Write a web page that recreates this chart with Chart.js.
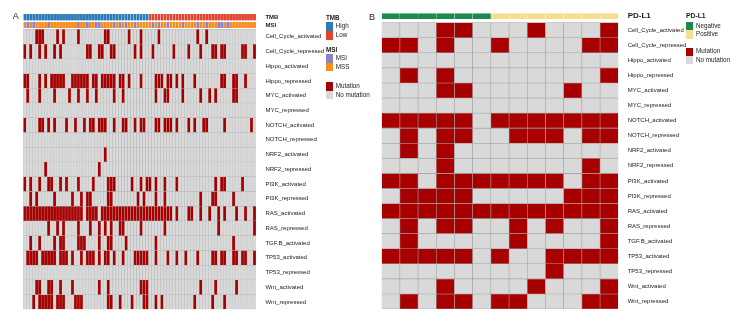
<!DOCTYPE html>
<html><head><meta charset="utf-8">
<script src="https://cdn.jsdelivr.net/npm/chart.js@4.4.1/dist/chart.umd.min.js"></script>
<style>
html,body{margin:0;padding:0;background:#fff;}
body{width:739px;height:320px;position:relative;overflow:hidden;font-family:"Liberation Sans",Arial,sans-serif;color:#1a1a1a;}
canvas{position:absolute;top:0;}
.t{position:absolute;white-space:nowrap;line-height:1;}
.sw{position:absolute;}
</style></head><body>
<canvas id="cA" width="370" height="320" style="left:0px"></canvas>
<canvas id="cB" width="369" height="320" style="left:370px"></canvas>
<script>
// ---------------- DATA ----------------
const pathways = ["Cell_Cycle_activated","Cell_Cycle_repressed","Hippo_activated","Hippo_repressed","MYC_activated","MYC_repressed","NOTCH_activated","NOTCH_repressed","NRF2_activated","NRF2_repressed","PI3K_activated","PI3K_repressed","RAS_activated","RAS_repressed","TGF.B_activated","TP53_activated","TP53_repressed","Wnt_activated","Wnt_repressed"];

// Panel A: 78 samples, first 42 TMB-High, rest TMB-Low
const nSamplesA = 78;
const tmbHighCountA = 42;
const msiSamplesA = [1,3,8,18,21,24,25,30,32,34,37,43,45,48,53,58,61,65,66,68];
// mutated sample indices per pathway (panel A)
const mutatedA = [
  [4,5,6,11,13,18,27,28,35,39,45,58,61],
  [0,2,5,7,10,12,21,22,25,26,29,30,37,39,43,50,55,59,63,64,66,67,73,74,77],
  [],
  [0,1,5,7,9,10,11,12,13,16,17,18,19,20,21,23,24,26,27,28,29,30,32,33,35,39,44,45,46,48,49,51,53,57,66,67,70,71,74],
  [1,5,10,15,18,21,24,30,33,44,47,48,53,59,62,64,70,71],
  [],
  [0,5,6,8,10,14,17,20,22,23,25,26,27,30,33,34,37,39,40,44,45,47,48,49,51,55,57,60,61,67,76],
  [],
  [27],
  [7,25],
  [0,2,5,8,9,12,14,18,23,28,29,30,36,39,41,42,44,47,51,64,66,67,73],
  [2,4,10,16,19,21,22,28,29,38,40,44,47,59,63,64,70],
  [0,1,2,3,4,5,6,7,8,9,10,11,12,13,14,15,16,17,18,19,21,22,23,24,26,27,28,29,30,31,32,33,34,35,36,37,38,39,40,41,42,43,44,45,46,47,48,49,51,55,56,59,62,65,67,71,74,77],
  [8,11,13,18,22,25,27,29,32,33,39,47,65,77],
  [2,5,10,12,13,18,19,20,25,28,29,34,44,70],
  [1,2,3,4,6,7,8,9,10,12,13,14,16,19,21,22,23,25,27,28,30,33,37,38,39,40,41,44,48,51,54,58,63,64,66,67,70,71,73,74,77],
  [],
  [4,5,8,9,12,16,25,28,39,40,41,59,64,71],
  [3,5,6,7,8,9,11,12,13,17,18,19,28,29,32,36,40,41,44,46,57,63,67]
];

// Panel B: 13 samples
const pdl1B = ["Negative","Negative","Negative","Negative","Negative","Negative","Positive","Positive","Positive","Positive","Positive","Positive","Positive"];
const mutB = [
  [0,0,0,1,1,0,0,0,1,0,0,0,1],
  [1,1,0,1,0,0,1,0,0,0,0,1,1],
  [0,0,0,0,0,0,0,0,0,0,0,0,0],
  [0,1,0,1,0,0,0,0,0,0,0,0,1],
  [0,0,0,1,1,0,0,0,0,0,1,0,0],
  [0,0,0,0,0,0,0,0,0,0,0,0,0],
  [1,1,1,1,1,0,1,1,1,1,1,1,1],
  [0,1,0,1,1,0,0,1,1,1,0,1,1],
  [0,1,0,1,0,0,0,0,0,0,0,0,0],
  [0,0,0,1,0,0,0,0,0,0,0,1,0],
  [1,1,0,1,1,1,1,1,1,1,0,1,1],
  [0,1,1,1,1,0,0,0,0,0,1,1,1],
  [1,1,1,1,1,1,1,1,1,1,1,1,1],
  [0,1,0,1,1,0,0,1,0,1,0,0,1],
  [0,1,0,0,0,0,0,1,0,0,0,0,1],
  [1,1,1,1,1,0,1,0,0,1,1,1,1],
  [0,0,0,0,0,0,0,0,0,1,0,0,0],
  [0,0,0,1,0,0,0,0,1,0,0,0,1],
  [0,1,0,1,1,0,1,1,0,0,0,1,1]
];

// ---------------- STYLE ----------------
const FAMILY = '"Liberation Sans", Arial, sans-serif';
const COL = {
  mut:'#A80000', nomut:'#D9D9D9',
  High:'#2B7BBA', Low:'#E2452F',
  MSI:'#8C84C4', MSS:'#F68D1F',
  Negative:'#1A8A4E', Positive:'#F8DD8F'
};

function heatChart(canvas, o) {
  const cats = Array.from({length:o.nCols}, (_, j) => 'S' + (j + 1));
  const common = {barPercentage:1, categoryPercentage:1, grouped:false, borderSkipped:false};
  const datasets = [];
  o.annots.forEach(a => datasets.push(Object.assign({
    data: cats.map(() => [a.y0, a.y1]), backgroundColor: a.colors,
    borderColor: 'rgba(255,255,255,0.55)', borderWidth: 0.4
  }, common)));
  o.matrix.forEach((r, i) => datasets.push(Object.assign({
    data: cats.map(() => [i, i + 1]), backgroundColor: r.map(v => v ? COL.mut : COL.nomut),
    borderColor: o.border, borderWidth: o.borderW
  }, common)));
  const tickVals = o.annots.map(a => (a.y0 + a.y1) / 2).concat(o.labels.map((_, i) => i + 0.5));
  const tickText = o.annots.map(a => a.label).concat(o.labels);
  const nA = o.annots.length;
  return new Chart(canvas, {
    type:'bar',
    data:{labels:cats, datasets},
    options:{
      responsive:false, animation:false, devicePixelRatio:1,
      layout:{padding:o.padding},
      plugins:{legend:{display:false}, tooltip:{enabled:false}},
      scales:{
        x:{display:false, offset:true},
        y:{
          type:'linear', position:'right', reverse:true, min:o.ymin, max:o.labels.length,
          grid:{display:false}, border:{display:false},
          afterBuildTicks: s => { s.ticks = tickVals.map(v => ({value:v})); },
          afterFit: s => { s.width = o.axisW; },
          ticks:{
            autoSkip:false, padding:1.4, color:'#1a1a1a',
            callback:(v, i) => tickText[i],
            font:(ctx) => ctx.index < nA ? {family:FAMILY, size:o.annFont, weight:'bold'} : {family:FAMILY, size:6}
          }
        }
      }
    }
  });
}

// Panel A
const matrixA = mutatedA.map(list => Array.from({length:nSamplesA}, (_, j) => list.includes(j) ? 1 : 0));
const tmbColors = Array.from({length:nSamplesA}, (_, j) => j < tmbHighCountA ? COL.High : COL.Low);
const msiColors = Array.from({length:nSamplesA}, (_, j) => msiSamplesA.includes(j) ? COL.MSI : COL.MSS);
heatChart(document.getElementById('cA'), {
  nCols:nSamplesA, matrix:matrixA, labels:pathways,
  annots:[{label:'TMB', y0:-1.04, y1:-0.6, colors:tmbColors}, {label:'MSI', y0:-0.5, y1:-0.09, colors:msiColors}],
  ymin:-1.04, padding:{left:23.3, right:14, top:13.97, bottom:10.7}, axisW:100,
  border:'#B5B5B5', borderW:0.45, annFont:6
});

// Panel B
heatChart(document.getElementById('cB'), {
  nCols:pdl1B.length, matrix:mutB, labels:pathways,
  annots:[{label:'PD-L1', y0:-0.62, y1:-0.23, colors:pdl1B.map(v => COL[v])}],
  ymin:-0.62, padding:{left:11.7, right:20.7, top:13.3, bottom:11}, axisW:100,
  border:'#A3A3A3', borderW:0.6, annFont:8
});

// ---------------- LEGENDS (HTML text) ----------------
function addText(x, yc, s, size, bold) {
  const d = document.createElement('div');
  d.className = 't'; d.textContent = s;
  d.style.left = x + 'px'; d.style.top = (yc - size / 2 - 0.3) + 'px';
  d.style.fontSize = size + 'px'; if (bold) d.style.fontWeight = 'bold';
  document.body.appendChild(d);
}
function addSwatch(x, y, w, h, c) {
  const d = document.createElement('div');
  d.className = 'sw'; d.style.left = x + 'px'; d.style.top = y + 'px';
  d.style.width = w + 'px'; d.style.height = h + 'px'; d.style.background = c;
  document.body.appendChild(d);
}
addText(12.7, 17, 'A', 9, false);
addText(369, 18, 'B', 9, false);
// legend A
addText(326, 18, 'TMB', 6.3, true);
addSwatch(326, 22.3, 7.3, 8.7, COL.High); addText(335.7, 26.8, 'High', 6.3);
addSwatch(326, 31, 7.3, 8.7, COL.Low); addText(335.7, 35.5, 'Low', 6.3);
addText(326, 50, 'MSI', 6.3, true);
addSwatch(326, 54.3, 7.3, 8.4, COL.MSI); addText(335.7, 58.6, 'MSI', 6.3);
addSwatch(326, 62.7, 7.3, 8.7, COL.MSS); addText(335.7, 67.2, 'MSS', 6.3);
addSwatch(326, 82.3, 7.3, 8.7, COL.mut); addText(335.7, 86.7, 'Mutation', 6.3);
addSwatch(326, 91, 7.3, 8.4, COL.nomut); addText(335.7, 95.3, 'No mutation', 6.3);
// legend B
addText(686, 16.7, 'PD-L1', 6.8, true);
addSwatch(686, 21.7, 7.3, 8.6, COL.Negative); addText(696, 26, 'Negative', 6.3);
addSwatch(686, 30.3, 7.3, 8.7, COL.Positive); addText(696, 34.7, 'Positive', 6.3);
addSwatch(686, 47.7, 7.3, 8.0, COL.mut); addText(696, 51.7, 'Mutation', 6.3);
addSwatch(686, 55.7, 7.3, 8.6, COL.nomut); addText(696, 60, 'No mutation', 6.3);
</script>
</body></html>
